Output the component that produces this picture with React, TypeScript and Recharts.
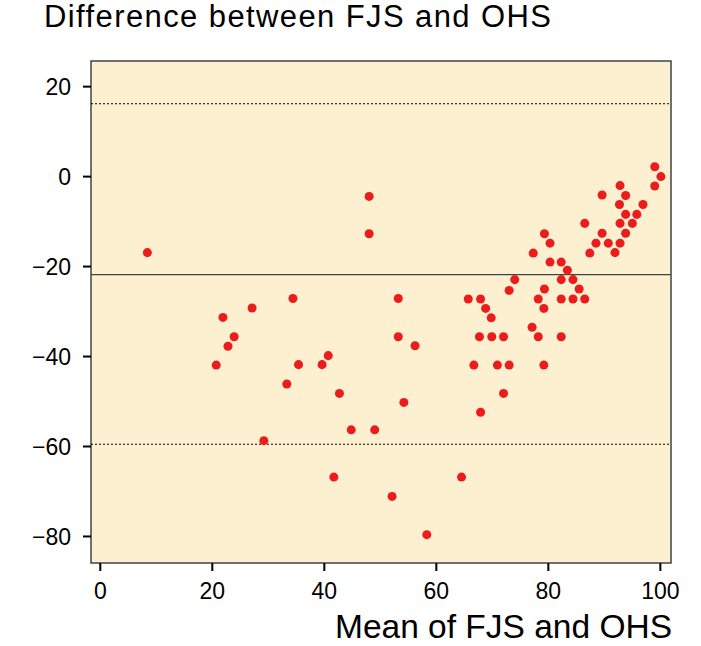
import React from 'react';
import { ScatterChart, Scatter, XAxis, YAxis, ZAxis, ReferenceLine, ReferenceArea } from 'recharts';

// mean of FJS and OHS
const meanScores = [
  8.4, 20.7, 21.9, 22.8, 23.9, 27.1, 29.2, 33.3, 34.4, 35.4, 39.6, 40.7, 41.7, 42.7, 44.8, 48.0, 48.0,
  49.0, 52.1, 53.2, 53.2, 54.2, 56.2, 58.3, 64.5,
  65.7, 66.7, 67.7, 67.9, 67.9, 68.8, 69.8, 69.9, 70.9, 72.0, 72.0, 73.0, 73.0, 74.0, 77.1, 77.3,
  78.2, 78.2, 79.2, 79.2, 79.3, 79.3, 80.3, 80.3, 82.3, 82.3, 82.3, 82.3, 83.4, 84.4, 84.4, 85.5,
  86.5, 86.5, 87.4, 88.5, 89.6, 89.6, 90.7, 91.9, 92.7, 92.8, 92.8, 92.8, 93.8, 93.8, 93.8, 95.0,
  95.8, 96.9, 99.0, 99.0, 100.1,
];

// difference FJS - OHS
const differences = [
  -16.9, -41.9, -31.3, -37.7, -35.6, -29.2, -58.7, -46.1, -27.1, -41.8, -41.8, -39.8, -66.8, -48.2, -56.3, -4.4, -12.7,
  -56.3, -71.1, -27.1, -35.6, -50.2, -37.6, -79.6, -66.8,
  -27.2, -41.9, -35.6, -27.2, -52.4, -29.3, -31.4, -35.6, -41.9, -35.6, -48.2, -25.3, -41.9, -22.9, -33.5, -17.0,
  -27.2, -35.6, -29.3, -41.9, -12.7, -25.0, -14.8, -19.0, -19.0, -22.9, -27.2, -35.6, -20.8, -22.9, -27.2, -25.0,
  -27.2, -10.4, -17.0, -14.8, -4.1, -12.6, -14.8, -16.9, -6.2, -2.0, -10.4, -14.8, -4.2, -8.4, -12.6, -10.4,
  -8.4, -6.2, 2.2, -2.1, 0.0,
];

const xTicks = [0, 20, 40, 60, 80, 100];
const yTicks = [20, 0, -20, -40, -60, -80];

const meanDiff = -21.8;
const upperLimit = 16.2;
const lowerLimit = -59.5;

const X_DOMAIN: [number, number] = [-1.66, 101.9];
const Y_DOMAIN: [number, number] = [-85.9, 25.7];

const points = meanScores.map((m, i) => ({ x: m, y: differences[i] }));

const font = '"Liberation Sans", Arial, Helvetica, sans-serif';
const minus = (v: number) => String(v).replace('-', '\u2212');

export default function App() {
  return (
    <div style={{ position: 'absolute', left: 0, top: 0, width: 701, height: 646, background: '#fff', fontFamily: font }}>
      <div style={{ position: 'absolute', left: 44, top: 1, fontSize: 31, lineHeight: 1, letterSpacing: 1.4, color: '#000', whiteSpace: 'nowrap' }}>
        Difference between FJS and OHS
      </div>
      <ScatterChart width={701} height={646} margin={{ top: 61, right: 30, left: 0, bottom: 0 }}>
        <ReferenceArea
          x1={X_DOMAIN[0]}
          x2={X_DOMAIN[1]}
          y1={Y_DOMAIN[0]}
          y2={Y_DOMAIN[1]}
          fill="#fdf0d0"
          fillOpacity={1}
          stroke="#3c4646"
          strokeWidth={1.5}
          ifOverflow="visible"
        />
        <XAxis
          type="number"
          dataKey="x"
          domain={X_DOMAIN}
          ticks={xTicks}
          allowDataOverflow
          height={83}
          axisLine={false}
          tickSize={8}
          tickMargin={12}
          tickLine={{ stroke: '#000', strokeWidth: 2 }}
          tick={{ fill: '#000', fontSize: 23, fontFamily: font }}
        />
        <YAxis
          type="number"
          dataKey="y"
          domain={Y_DOMAIN}
          ticks={yTicks}
          allowDataOverflow
          width={91}
          axisLine={false}
          tickSize={8}
          tickMargin={12}
          tickFormatter={minus}
          tickLine={{ stroke: '#000', strokeWidth: 2 }}
          tick={{ fill: '#000', fontSize: 23, fontFamily: font }}
        />
        <ZAxis range={[92, 92]} />
        <ReferenceLine y={upperLimit} stroke="#000" strokeWidth={1} strokeDasharray="2 2" />
        <ReferenceLine y={meanDiff} stroke="#3c4646" strokeWidth={1.2} />
        <ReferenceLine y={lowerLimit} stroke="#000" strokeWidth={1} strokeDasharray="2 2" />
        <Scatter data={points} fill="#ec1c1c" shape="circle" isAnimationActive={false} />
      </ScatterChart>
      <div style={{ position: 'absolute', right: 29, top: 610, fontSize: 33.5, lineHeight: 1, color: '#000', whiteSpace: 'nowrap' }}>
        Mean of FJS and OHS
      </div>
    </div>
  );
}
